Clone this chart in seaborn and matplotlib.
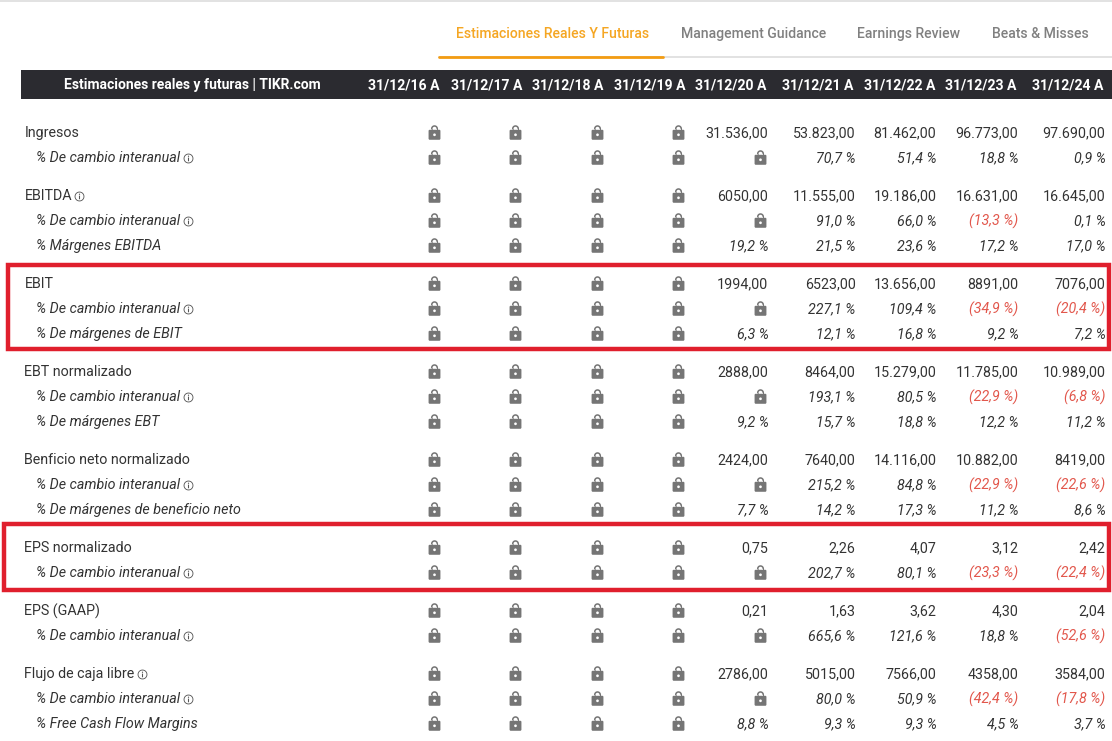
import numpy as np
import pandas as pd
import matplotlib
matplotlib.use("Agg")
import matplotlib.pyplot as plt
from matplotlib.path import Path
from matplotlib.patches import Rectangle
import seaborn as sns

tabs = ["Estimaciones Reales Y Futuras", "Management Guidance", "Earnings Review", "Beats & Misses"]
table_title = "Estimaciones reales y futuras | TIKR.com"
dates = ["31/12/16 A", "31/12/17 A", "31/12/18 A", "31/12/19 A", "31/12/20 A",
         "31/12/21 A", "31/12/22 A", "31/12/23 A", "31/12/24 A"]

# None = locked cell
ingresos = [31536, 53823, 81462, 96773, 97690]
ingresos_chg = [None, 70.7, 51.4, 18.8, 0.9]
ebitda = [6050, 11555, 19186, 16631, 16645]
ebitda_chg = [None, 91.0, 66.0, -13.3, 0.1]
ebitda_mrg = [19.2, 21.5, 23.6, 17.2, 17.0]
ebit = [1994, 6523, 13656, 8891, 7076]
ebit_chg = [None, 227.1, 109.4, -34.9, -20.4]
ebit_mrg = [6.3, 12.1, 16.8, 9.2, 7.2]
ebt = [2888, 8464, 15279, 11785, 10989]
ebt_chg = [None, 193.1, 80.5, -22.9, -6.8]
ebt_mrg = [9.2, 15.7, 18.8, 12.2, 11.2]
neto = [2424, 7640, 14116, 10882, 8419]
neto_chg = [None, 215.2, 84.8, -22.9, -22.6]
neto_mrg = [7.7, 14.2, 17.3, 11.2, 8.6]
eps = [0.75, 2.26, 4.07, 3.12, 2.42]
eps_chg = [None, 202.7, 80.1, -23.3, -22.4]
eps_gaap = [0.21, 1.63, 3.62, 4.30, 2.04]
eps_gaap_chg = [None, 665.6, 121.6, 18.8, -52.6]
fcf = [2786, 5015, 7566, 4358, 3584]
fcf_chg = [None, 80.0, 50.9, -42.4, -17.8]
fcf_mrg = [8.8, 9.3, 9.3, 4.5, 3.7]

chg = "% De cambio interanual"
# groups of (label, values, kind, info icon)
groups = [
    [("Ingresos", ingresos, "num", False), (chg, ingresos_chg, "pct", True)],
    [("EBITDA", ebitda, "num", True), (chg, ebitda_chg, "pct", True), ("% Márgenes EBITDA", ebitda_mrg, "pct", False)],
    [("EBIT", ebit, "num", False), (chg, ebit_chg, "pct", True), ("% De márgenes de EBIT", ebit_mrg, "pct", False)],
    [("EBT normalizado", ebt, "num", False), (chg, ebt_chg, "pct", True), ("% De márgenes EBT", ebt_mrg, "pct", False)],
    [("Benficio neto normalizado", neto, "num", False), (chg, neto_chg, "pct", True),
     ("% De márgenes de beneficio neto", neto_mrg, "pct", False)],
    [("EPS normalizado", eps, "eps", False), (chg, eps_chg, "pct", True)],
    [("EPS (GAAP)", eps_gaap, "eps", False), (chg, eps_gaap_chg, "pct", True)],
    [("Flujo de caja libre", fcf, "num", True), (chg, fcf_chg, "pct", True), ("% Free Cash Flow Margins", fcf_mrg, "pct", False)],
]


def fmt_value(v, kind):
    if kind == "eps":
        return f"{v:.2f}".replace(".", ",")
    if kind == "num":
        if v >= 10000:
            return f"{v:,.2f}".replace(",", "#").replace(".", ",").replace("#", ".")
        return f"{v:.2f}".replace(".", ",")
    s = f"{abs(v):.1f}".replace(".", ",") + " %"
    return f"({s})" if v < 0 else s


def ring(r, cx=0.0, cy=0.0, a0=0.0, a1=2 * np.pi, n=40):
    t = np.linspace(a0, a1, n)
    return np.column_stack([cx + r * np.cos(t), cy + r * np.sin(t)])


def closed(pts):
    codes = [Path.MOVETO] + [Path.LINETO] * (len(pts) - 1) + [Path.CLOSEPOLY]
    return Path(np.vstack([pts, pts[0]]), codes)


# lock glyph: body with keyhole plus shackle
body = np.array([[-5.7, -6.2], [-5, -7], [5, -7], [5.7, -6.2], [5.7, 1.9], [5, 2.6], [-5, 2.6], [-5.7, 1.9]], float)
shackle = np.vstack([ring(3.4, 0, 3.6, 0, np.pi), [[-1.9, 2.0]], ring(1.9, 0, 3.6, np.pi, 0), [[3.4, 2.0]]])
lock_marker = Path.make_compound_path(closed(body), closed(ring(1.3, 0, -2.2, 2 * np.pi, 0)), closed(shackle))
info_marker = Path.make_compound_path(
    closed(ring(5)), closed(ring(4.1, a0=2 * np.pi, a1=0)),
    closed(np.array([[-0.55, -2.8], [0.55, -2.8], [0.55, 0.9], [-0.55, 0.9]])),
    closed(ring(0.65, 0, 2.3)),
)

sns.set_theme(style="white")
plt.rcParams["font.family"] = ["Roboto", "DejaVu Sans"]

fig = plt.figure(figsize=(11.12, 7.41), dpi=100)
ax = fig.add_axes([0, 0, 1, 1])
ax.set_xlim(0, 1112)
ax.set_ylim(741, 0)
ax.axis("off")

TXT = "#333333"
FS = 10.3

# top rule and tabs
ax.plot([0, 1112], [1, 1], color="#dddddd", lw=1.2)
ax.plot([439, 1112], [57, 57], color="#dddddd", lw=1.2)
ax.plot([439, 663], [57, 57], color="#f39c12", lw=2)
tab_x = [456, 681, 857, 992]
for i, (t, x) in enumerate(zip(tabs, tab_x)):
    ax.text(x, 34, t, ha="left", va="center", fontsize=10.1, fontweight="medium",
            color="#f5a623" if i == 0 else "#808080")

# header bar
ax.add_patch(Rectangle((21, 70), 1091, 29, color="#2b2b30", lw=0))
ax.text(192, 85.5, table_title, ha="center", va="center", color="white", fontsize=10, fontweight="bold")
head_right = [440, 522, 603, 685, 766, 853, 935, 1016, 1103]
for d, x in zip(dates, head_right):
    ax.text(x, 85.5, d, ha="right", va="center", color="white", fontsize=10.1, fontweight="bold")

# rows
col_x = [433.7, 515, 596.7, 678, 759.7]
val_right = [768.5, 855.5, 936.5, 1018.5, 1105.5]
locks = []
y = 132
row_labels = []
for group in groups:
    for j, (label, values, kind, info) in enumerate(group):
        sub = j > 0
        lab = ax.text(36.5 if sub else 24.5, y + 1, label, ha="left", va="center", fontsize=FS, color=TXT,
                      style="italic" if sub else "normal")
        row_labels.append((lab, info, y))
        locks += [(x, y) for x in col_x[:4]]
        for x, r, v in zip(col_x[4:] * 5, val_right, values):
            if v is None:
                locks.append((x, y))
            else:
                neg = kind == "pct" and v < 0
                ax.text(r, y + 1, fmt_value(v, kind), ha="right", va="center", fontsize=FS,
                        color="#e2574c" if neg else TXT, style="italic" if kind == "pct" else "normal")
        y += 25
    y += 13

fig.canvas.draw()
rend = fig.canvas.get_renderer()
icons = []
for lab, info, yy in row_labels:
    if info:
        box = lab.get_window_extent(rend)
        icons.append((box.x1 + 7, yy + 0.5))

lock_df = pd.DataFrame(locks, columns=["x", "y"])
icon_df = pd.DataFrame(icons, columns=["x", "y"])
sns.scatterplot(data=lock_df, x="x", y="y", marker=lock_marker, s=110, color="#757575", linewidth=0, ax=ax, legend=False)
sns.scatterplot(data=icon_df, x="x", y="y", marker=info_marker, s=50, color="#555555", linewidth=0, ax=ax, legend=False)
ax.set_xlim(0, 1112)
ax.set_ylim(741, 0)
ax.axis("off")

# red highlight boxes
for x0, y0, x1, y1 in [(7.5, 264.5, 1108.5, 349), (3.5, 524, 1108.5, 590)]:
    ax.add_patch(Rectangle((x0, y0), x1 - x0, y1 - y0, fill=False, edgecolor="#e01f2d", lw=3.2))

fig.savefig("out.png", dpi=100, facecolor="white")
